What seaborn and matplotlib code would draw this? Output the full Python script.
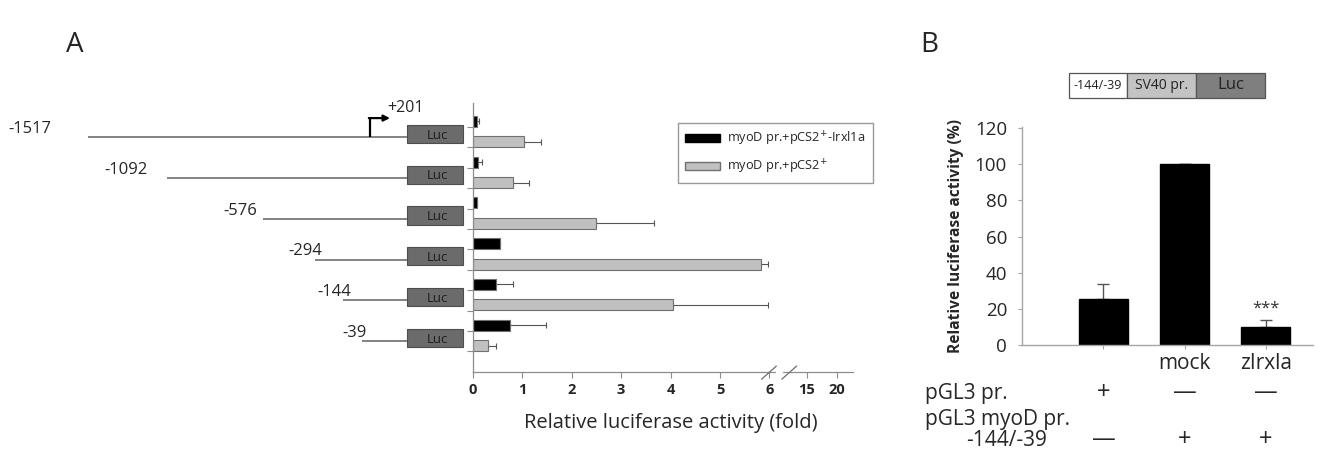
import numpy as np
import pandas as pd
import matplotlib
matplotlib.use("Agg")
import matplotlib.pyplot as plt
import matplotlib.patches as mpatches
from matplotlib.transforms import blended_transform_factory
import seaborn as sns

############################################################
# DATA - panel A (deletion constructs, fold activity)
############################################################
constructs = ["-1517", "-1092", "-576", "-294", "-144", "-39"]
promoter_start = [-1517, -1092, -576, -294, -144, -39]   # bp
conditions = ["myoD pr.+pCS2$^{+}$-Irxl1a", "myoD pr.+pCS2$^{+}$"]
irx_mean = [0.09, 0.11, 0.08, 0.55, 0.48, 0.75]
irx_err = [0.03, 0.07, 0.0, 0.0, 0.33, 0.74]
ctrl_mean = [1.03, 0.81, 2.49, 5.82, 4.06, 0.30]
ctrl_err = [0.35, 0.32, 1.18, 0.16, 1.92, 0.18]
xtick_labels_a = ["0", "1", "2", "3", "4", "5", "6", "15", "20"]
tss_label = "+201"
tss_end = 201     # bp, end of promoter fragment
luc_end = 503     # bp, drawing length of the Luc box

############################################################
# DATA - panel B
############################################################
b_groups = ["pGL3 pr.", "mock", "zIrxla"]
b_ticklabels = ["", "mock", "zIrxla"]
b_mean = [25.3, 100, 9.8]
b_err = [8.3, 0, 4.0]
row1_signs = ["+", "\u2014", "\u2014"]
row2_signs = ["\u2014", "+", "+"]
b_yticks = [0, 20, 40, 60, 80, 100, 120]
construct_parts = ["-144/-39", "SV40 pr.", "Luc"]

############################################################
# STYLE / LAYOUT
############################################################
sns.set_style("white")
plt.rcParams["font.family"] = ["Open Sans", "DejaVu Sans"]

W, H = 1323, 459
fig = plt.figure(figsize=(W / 100, H / 100), dpi=100)


def px_axes(x0, y0, x1, y1):
    return fig.add_axes([x0 / W, 1 - y1 / H, (x1 - x0) / W, (y1 - y0) / H])


ax_s = px_axes(0, 103, 472.7, 371.7)       # schematic
ax_a = px_axes(472.7, 103, 853, 371.7)     # bars A
ax_b = px_axes(1022.3, 126.7, 1312.7, 345) # bars B
ax_c = px_axes(1069.3, 72.7, 1265, 97.7)   # construct box B

ylim_a = (5.89, -0.70)
grp = np.arange(len(constructs))

############################################################
# PANEL A - bars
############################################################
df_a = pd.DataFrame({
    "construct": constructs * 2,
    "condition": [conditions[0]] * 6 + [conditions[1]] * 6,
    "value": irx_mean + ctrl_mean,
})

sns.barplot(data=df_a, y="construct", x="value", hue="condition",
            order=constructs, hue_order=conditions,
            palette=["black", "#c0c0c0"], width=1.0, gap=0.46,
            errorbar=None, orient="h", legend=False, ax=ax_a,
            edgecolor="#707070", linewidth=0.8)

for off, m, e in [(-0.25, irx_mean, irx_err), (0.25, ctrl_mean, ctrl_err)]:
    ax_a.errorbar(m, grp + off, xerr=[np.zeros(6), e], fmt="none",
                  ecolor="#555555", elinewidth=0.8, capsize=2.2,
                  capthick=0.8, zorder=0.5)

# broken x axis: 15 and 20 sit after the break
break_pos = {"15": 6.75, "20": 7.36}
xt = [float(l) if l not in break_pos else break_pos[l] for l in xtick_labels_a]
ax_a.set_xlim(0, 7.69)
ax_a.set_ylim(*ylim_a)
ax_a.set_xticks(xt)
ax_a.set_xticklabels(xtick_labels_a, fontweight="bold", fontsize=10.5)
ax_a.set_yticks(np.arange(12) * 0.5 - 0.11)
ax_a.set_yticklabels([])
ax_a.tick_params(axis="both", direction="out", length=4, width=0.8,
                 color="#8c8c8c", pad=4, left=True, bottom=True)
for sp in ["top", "right"]:
    ax_a.spines[sp].set_visible(False)
for sp in ["left", "bottom"]:
    ax_a.spines[sp].set_color("#8c8c8c")
    ax_a.spines[sp].set_linewidth(0.9)
ax_a.set_ylabel("")
ax_a.set_xlabel("Relative luciferase activity (fold)", fontsize=14.5)
ax_a.xaxis.set_label_coords(0.52, -0.155)

xtr = ax_a.get_xaxis_transform()
ax_a.plot([6.16, 6.24], [0, 0], color="white", lw=2.5, transform=xtr,
          clip_on=False, zorder=5)
for x0 in (5.84, 6.25):
    ax_a.plot([x0, x0 + 0.3], [-0.028, 0.021], color="#6e6e6e", lw=0.9,
              transform=xtr, clip_on=False, zorder=6)

leg_handles = [mpatches.Patch(facecolor="black", edgecolor="black"),
               mpatches.Patch(facecolor="#c0c0c0", edgecolor="#707070")]
ax_a.legend(leg_handles, conditions, loc="upper left",
            bbox_to_anchor=(678 / W, 1 - 123 / H),
            bbox_transform=fig.transFigure, fontsize=9.2, frameon=True,
            fancybox=False, edgecolor="#999999", framealpha=1,
            borderpad=0.55, labelspacing=0.75, handlelength=2.7,
            handleheight=0.6, handletextpad=0.6, borderaxespad=0)

############################################################
# PANEL A - promoter schematic
############################################################
ax_s.set_xlim(-1989, 555)
ax_s.set_ylim(*ylim_a)
ax_s.axis("off")

label_nudge_bp = [-194, -102, -27, 38, 48, 22]
ax_s.hlines(grp + 0.14, promoter_start, tss_end, color="#7a7a7a", lw=1.3)
for g, start, lab, nud in zip(grp, promoter_start, constructs, label_nudge_bp):
    ax_s.add_patch(mpatches.Rectangle((tss_end, g + 0.06 - 0.225),
                                      luc_end - tss_end, 0.45,
                                      facecolor="#6b6b6b", edgecolor="#4d4d4d",
                                      lw=0.8))
    ax_s.text((tss_end + luc_end) / 2 + 12, g + 0.09, "Luc", ha="center",
              va="center", fontsize=9.5, color="#1e1e1e")
    ax_s.text(start + nud, g - 0.06, lab, ha="right", va="center",
              fontsize=12)

# transcription start arrow
ax_s.plot([1, 1], [0.14, -0.33], color="black", lw=1.6,
          solid_capstyle="butt")
ax_s.annotate("", xy=(110, -0.33), xytext=(-4, -0.33),
              arrowprops=dict(arrowstyle="-|>", color="black", lw=1.6,
                              mutation_scale=9, shrinkA=0, shrinkB=0))
ax_s.text(tss_end - 8, -0.58, tss_label, ha="center", va="center",
          fontsize=11.5)

############################################################
# PANEL B
############################################################
sns.barplot(x=b_groups, y=b_mean, order=b_groups, color="black",
            width=0.6, errorbar=None, ax=ax_b, edgecolor="black")
ax_b.errorbar(np.arange(3), b_mean, yerr=[np.zeros(3), b_err], fmt="none",
              ecolor="#555555", elinewidth=1.0, capsize=4, capthick=1.0,
              zorder=0.5)
ax_b.set_xlim(-1.0, 2.58)
ax_b.set_ylim(0, 120.8)
ax_b.set_yticks(b_yticks)
ax_b.set_yticklabels([str(v) for v in b_yticks], fontsize=13.5)
ax_b.set_xticks(np.arange(3))
ax_b.set_xticklabels(b_ticklabels, fontsize=15)
ax_b.tick_params(axis="y", direction="out", length=3, width=0.8,
                 color="#a6a6a6", pad=8, left=True)
ax_b.tick_params(axis="x", direction="out", length=3, width=0.8,
                 color="#a6a6a6", pad=3, bottom=True)
for sp in ["top", "right"]:
    ax_b.spines[sp].set_visible(False)
for sp in ["left", "bottom"]:
    ax_b.spines[sp].set_color("#a6a6a6")
    ax_b.spines[sp].set_linewidth(1.0)
ax_b.set_xlabel("")
ax_b.set_ylabel("Relative luciferase activity (%)", fontsize=11.2,
                fontweight="bold")
ax_b.yaxis.set_label_coords(-0.2, 0.5)
ax_b.text(2, 20, "***", ha="center", va="center", fontsize=12,
          color="#333333")

trans = blended_transform_factory(ax_b.transData, fig.transFigure)
for i, (s1, s2) in enumerate(zip(row1_signs, row2_signs)):
    ax_b.text(i, 1 - 393 / H, s1, transform=trans, ha="center", va="center",
              fontsize=17)
    ax_b.text(i, 1 - 440 / H, s2, transform=trans, ha="center", va="center",
              fontsize=17)
fig.text(925 / W, 1 - 393 / H, "pGL3 pr.", ha="left", va="center",
         fontsize=15)
fig.text(925 / W, 1 - 419 / H, "pGL3 myoD pr.", ha="left", va="center",
         fontsize=15)
fig.text(1046.7 / W, 1 - 440 / H, "-144/-39", ha="right", va="center",
         fontsize=15)

# construct diagram above panel B
part_w = [57.4, 69.0, 69.3]
part_fc = ["white", "#c3c3c3", "#7f7f7f"]
part_fs = [9, 10, 12]
ax_c.set_xlim(0, sum(part_w))
ax_c.set_ylim(0, 1)
ax_c.axis("off")
left = 0
for name, w, fc, fs in zip(construct_parts, part_w, part_fc, part_fs):
    ax_c.add_patch(mpatches.Rectangle((left, 0), w, 1, facecolor=fc,
                                      edgecolor="#555555", lw=0.9,
                                      clip_on=False))
    ax_c.text(left + w / 2, 0.5, name, ha="center", va="center",
              fontsize=fs, color="#222222")
    left += w

fig.text(75 / W, 1 - 45 / H, "A", ha="center", va="center", fontsize=20)
fig.text(929 / W, 1 - 45 / H, "B", ha="center", va="center", fontsize=20)

fig.savefig("out.png", dpi=100)
